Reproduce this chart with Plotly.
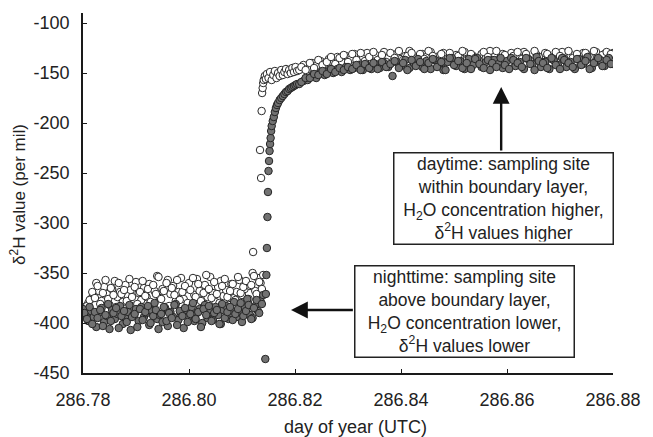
import plotly.graph_objects as go

# ---------------- data ----------------
night_t = [286.7800, 286.7805, 286.7810, 286.7815, 286.7820, 286.7825, 286.7830, 286.7835, 286.7840, 286.7845,
           286.7850, 286.7855, 286.7860, 286.7865, 286.7870, 286.7875, 286.7880, 286.7885, 286.7890, 286.7895,
           286.7900, 286.7905, 286.7910, 286.7915, 286.7920, 286.7925, 286.7930, 286.7935, 286.7940, 286.7945,
           286.7950, 286.7955, 286.7960, 286.7965, 286.7970, 286.7975, 286.7980, 286.7985, 286.7990, 286.7995,
           286.8000, 286.8005, 286.8010, 286.8015, 286.8020, 286.8025, 286.8030, 286.8035, 286.8040, 286.8045,
           286.8050, 286.8055, 286.8060, 286.8065, 286.8070, 286.8075, 286.8080, 286.8085, 286.8090, 286.8095,
           286.8100, 286.8105, 286.8110, 286.8115, 286.8120, 286.8125, 286.8130, 286.8135, 286.8140]
night_open = [-384, -388, -380, -376, -372, -360, -368, -378, -364, -371,
              -382, -366, -358, -374, -369, -379, -362, -373, -367, -383,
              -359, -370, -377, -365, -374, -361, -380, -368, -353, -375,
              -366, -384, -357, -371, -363, -378, -369, -355, -376, -366,
              -360, -381, -372, -356, -368, -377, -362, -374, -354, -370,
              -379, -364, -358, -373, -367, -382, -361, -375, -369, -357,
              -372, -366, -379, -363, -350, -368, -355, -360, -352]
night_filled = [-386, -392, -398, -388, -394, -404, -390, -385, -399, -393,
                -406, -387, -396, -391, -383, -401, -395, -389, -407, -392,
                -386, -398, -384, -394, -390, -402, -388, -380, -396, -392,
                -399, -385, -403, -389, -394, -381, -397, -391, -405, -387,
                -393, -384, -398, -390, -386, -400, -382, -395, -389, -397,
                -384, -392, -401, -387, -383, -396, -390, -379, -394, -388,
                -399, -385, -376, -392, -395, -383, -388, -378, -372]

night2_t = [286.78025, 286.78075, 286.78125, 286.78175, 286.78225, 286.78275, 286.78325, 286.78375, 286.78425, 286.78475,
            286.78525, 286.78575, 286.78625, 286.78675, 286.78725, 286.78775, 286.78825, 286.78875, 286.78925, 286.78975,
            286.79025, 286.79075, 286.79125, 286.79175, 286.79225, 286.79275, 286.79325, 286.79375, 286.79425, 286.79475,
            286.79525, 286.79575, 286.79625, 286.79675, 286.79725, 286.79775, 286.79825, 286.79875, 286.79925, 286.79975,
            286.80025, 286.80075, 286.80125, 286.80175, 286.80225, 286.80275, 286.80325, 286.80375, 286.80425, 286.80475,
            286.80525, 286.80575, 286.80625, 286.80675, 286.80725, 286.80775, 286.80825, 286.80875, 286.80925, 286.80975,
            286.81025, 286.81075, 286.81125, 286.81175, 286.81225, 286.81275, 286.81325, 286.81375]
night2_open = [-390, -383, -377, -369, -375, -363, -381, -370, -357, -376,
               -365, -372, -384, -360, -371, -367, -378, -356, -374, -364,
               -381, -369, -358, -373, -366, -379, -362, -371, -354, -376,
               -368, -360, -383, -365, -372, -357, -377, -369, -363, -380,
               -367, -355, -374, -361, -378, -370, -352, -366, -375, -359,
               -371, -380, -363, -356, -374, -368, -361, -377, -354, -370,
               -364, -358, -376, -362, -353, -371, -359, -366]
night2_filled = [-390, -396, -384, -401, -389, -395, -387, -403, -392, -381,
                 -398, -390, -385, -405, -393, -388, -399, -382, -394, -391,
                 -404, -386, -397, -389, -383, -400, -393, -387, -406, -391,
                 -384, -398, -390, -395, -382, -402, -388, -393, -385, -399,
                 -391, -380, -396, -389, -404, -386, -392, -383, -398, -390,
                 -387, -401, -381, -395, -389, -384, -397, -391, -386, -380,
                 -393, -388, -382, -396, -385, -377, -390, -381]

rise_open_t = [286.8121, 286.8134, 286.8136, 286.8137, 286.8138, 286.8139, 286.8140, 286.8141, 286.8143, 286.8145,
               286.8147, 286.8150, 286.8153, 286.8156, 286.8159, 286.8162, 286.8165, 286.8168, 286.8171, 286.8174,
               286.8177, 286.8180, 286.8183, 286.8186, 286.8189, 286.8192, 286.8195, 286.8198, 286.8201, 286.8204]
rise_open = [-329, -227, -255, -188, -170, -165, -160, -157, -153, -156,
             -151, -155, -149, -157, -152, -148, -155, -150, -153, -147,
             -152, -149, -146, -151, -147, -150, -145, -149, -144, -148]

rise_filled_t = [286.8144, 286.8145, 286.8146, 286.8147, 286.8148, 286.8149, 286.8150, 286.8151, 286.8152, 286.8153,
                 286.8154, 286.8155, 286.8156, 286.8158, 286.8160, 286.8162, 286.8164, 286.8166, 286.8168, 286.8171,
                 286.8174, 286.8177, 286.8180, 286.8183, 286.8186, 286.8189, 286.8192, 286.8195, 286.8198, 286.8201,
                 286.8204]
rise_filled = [-436, -371, -352, -325, -294, -269, -248, -238, -228, -221,
               -215, -208, -203, -198, -194, -189, -185, -182, -180, -177,
               -175, -173, -171, -169, -168, -166, -165, -164, -163, -162,
               -161]

day_t = [286.8208, 286.8216, 286.8224, 286.8232, 286.8240, 286.8248, 286.8256, 286.8264, 286.8272, 286.8280,
         286.8288, 286.8296, 286.8304, 286.8312, 286.8320, 286.8328, 286.8336, 286.8344, 286.8352, 286.8360,
         286.8368, 286.8376, 286.8384, 286.8392, 286.8400, 286.8408, 286.8416, 286.8424, 286.8432, 286.8440,
         286.8448, 286.8456, 286.8464, 286.8472, 286.8480, 286.8488, 286.8496, 286.8504, 286.8512, 286.8520,
         286.8528, 286.8536, 286.8544, 286.8552, 286.8560, 286.8568, 286.8576, 286.8584, 286.8592, 286.8600,
         286.8608, 286.8616, 286.8624, 286.8632, 286.8640, 286.8648, 286.8656, 286.8664, 286.8672, 286.8680,
         286.8688, 286.8696, 286.8704, 286.8712, 286.8720, 286.8728, 286.8736, 286.8744, 286.8752, 286.8760,
         286.8768, 286.8776, 286.8784, 286.8792, 286.8800]
day_open = [-147, -142, -146, -140, -143, -138, -141, -136, -140, -134,
            -139, -133, -137, -131, -138, -134, -130, -137, -132, -136,
            -129, -135, -139, -131, -136, -133, -128, -135, -138, -131,
            -134, -129, -137, -133, -130, -136, -139, -132, -135, -129,
            -137, -133, -139, -131, -135, -128, -134, -137, -131, -136,
            -130, -138, -133, -129, -136, -139, -132, -135, -130, -134,
            -137, -131, -129, -136, -132, -138, -134, -130, -136, -132,
            -129, -135, -131, -134, -130]
day_filled = [-161, -158, -157, -153, -155, -150, -152, -148, -150, -146,
              -149, -144, -147, -145, -142, -147, -143, -146, -141, -145,
              -140, -144, -153, -139, -143, -137, -145, -140, -136, -144,
              -138, -146, -137, -141, -147, -139, -135, -143, -138, -146,
              -136, -142, -135, -144, -139, -147, -137, -141, -145, -138,
              -135, -143, -139, -146, -136, -141, -134, -144, -139, -146,
              -137, -142, -135, -144, -139, -146, -136, -141, -134, -145,
              -139, -137, -143, -135, -141]

day2_t = [286.8212, 286.8220, 286.8228, 286.8236, 286.8244, 286.8252, 286.8260, 286.8268, 286.8276, 286.8284,
          286.8292, 286.8300, 286.8308, 286.8316, 286.8324, 286.8332, 286.8340, 286.8348, 286.8356, 286.8364,
          286.8372, 286.8380, 286.8388, 286.8396, 286.8404, 286.8412, 286.8420, 286.8428, 286.8436, 286.8444,
          286.8452, 286.8460, 286.8468, 286.8476, 286.8484, 286.8492, 286.8500, 286.8508, 286.8516, 286.8524,
          286.8532, 286.8540, 286.8548, 286.8556, 286.8564, 286.8572, 286.8580, 286.8588, 286.8596, 286.8604,
          286.8612, 286.8620, 286.8628, 286.8636, 286.8644, 286.8652, 286.8660, 286.8668, 286.8676, 286.8684,
          286.8692, 286.8700, 286.8708, 286.8716, 286.8724, 286.8732, 286.8740, 286.8748, 286.8756, 286.8764,
          286.8772, 286.8780, 286.8788, 286.8796]
day2_open = [-144, -147, -140, -145, -137, -142, -139, -134, -141, -135,
             -132, -139, -131, -137, -130, -138, -134, -129, -137, -132,
             -139, -130, -135, -128, -137, -133, -130, -139, -131, -136,
             -128, -133, -138, -131, -139, -130, -136, -133, -128, -137,
             -131, -135, -139, -129, -134, -137, -128, -136, -132, -139,
             -133, -129, -136, -131, -138, -128, -134, -139, -131, -136,
             -129, -133, -137, -128, -135, -131, -138, -130, -134, -128,
             -136, -132, -129, -131]
day2_filled = [-159, -155, -155, -151, -152, -148, -151, -146, -149, -145,
               -147, -144, -146, -142, -147, -141, -145, -140, -146, -139,
               -144, -141, -138, -145, -140, -147, -137, -143, -139, -146,
               -140, -136, -144, -139, -147, -135, -142, -138, -145, -140,
               -146, -136, -141, -145, -137, -140, -144, -135, -142, -146,
               -137, -140, -144, -135, -141, -147, -138, -140, -145, -135,
               -142, -146, -137, -140, -144, -136, -142, -138, -146, -140,
               -135, -143, -137, -141]

x_ticks = [286.78, 286.80, 286.82, 286.84, 286.86, 286.88]
x_tick_text = ["286.78", "286.80", "286.82", "286.84", "286.86", "286.88"]
y_ticks = [-450, -400, -350, -300, -250, -200, -150, -100]
y_tick_text = ["-450", "-400", "-350", "-300", "-250", "-200", "-150", "-100"]

day_label = ("daytime: sampling site<br>within boundary layer,<br>"
             "H<sub>2</sub>O concentration higher,<br>δ<sup>2</sup>H values higher")
night_label = ("nighttime: sampling site<br>above boundary layer,<br>"
               "H<sub>2</sub>O concentration lower,<br>δ<sup>2</sup>H values lower")

# ---------------- figure ----------------
FONT = "Liberation Sans, Arial, sans-serif"
TXT = "#222222"

open_x = night_t + night2_t + rise_open_t + day_t + day2_t
open_y = night_open + night2_open + rise_open + day_open + day2_open
filled_x = night_t + night2_t + rise_filled_t + day_t + day2_t
filled_y = night_filled + night2_filled + rise_filled + day_filled + day2_filled

fig = go.Figure()
fig.add_trace(go.Scatter(
    x=open_x, y=open_y, mode="markers",
    marker=dict(size=7.5, color="white", line=dict(color="#2a2a2a", width=1)),
    showlegend=False, hoverinfo="skip"))
fig.add_trace(go.Scatter(
    x=filled_x, y=filled_y, mode="markers",
    marker=dict(size=7.5, color="#727272", line=dict(color="#262626", width=1)),
    showlegend=False, hoverinfo="skip"))

axis_common = dict(showgrid=False, zeroline=False, showline=True, linecolor="#1a1a1a",
                   linewidth=1.6, ticks="inside", ticklen=4, tickwidth=1.2, tickcolor="#1a1a1a",
                   tickfont=dict(family=FONT, size=18, color=TXT), mirror=False)

fig.update_xaxes(range=[286.78, 286.88], tickmode="array", tickvals=x_ticks, ticktext=x_tick_text,
                 ticklabelstandoff=10, **axis_common)
fig.update_yaxes(range=[-450, -90], tickmode="array", tickvals=y_ticks, ticktext=y_tick_text,
                 ticklabelstandoff=8, **axis_common)

annotations = [
    dict(text="day of year (UTC)", xref="paper", yref="paper", x=0.515, y=-0.15,
         xanchor="center", yanchor="middle", showarrow=False,
         font=dict(family=FONT, size=18, color=TXT)),
    dict(text="δ<sup>2</sup>H value (per mil)", xref="paper", yref="paper", x=-0.123, y=0.497,
         xanchor="center", yanchor="middle", showarrow=False, textangle=-90,
         font=dict(family=FONT, size=17, color=TXT)),
    # arrows
    dict(x=286.8589, y=-164, ax=286.8589, ay=-229, xref="x", yref="y", axref="x", ayref="y",
         text="", showarrow=True, arrowhead=2, arrowsize=1.4, arrowwidth=2.4, arrowcolor="#111111"),
    dict(x=286.81925, y=-387, ax=286.8312, ay=-387, xref="x", yref="y", axref="x", ayref="y",
         text="", showarrow=True, arrowhead=2, arrowsize=1.4, arrowwidth=2.4, arrowcolor="#111111"),
    # boxes
    dict(text=day_label, x=286.8593, y=-275.5, xref="x", yref="y", showarrow=False,
         xanchor="center", yanchor="middle", width=214, height=86, align="center",
         bgcolor="white", bordercolor="#222222", borderwidth=1.5, borderpad=2,
         font=dict(family=FONT, size=17.5, color=TXT)),
    dict(text=night_label, x=286.8519, y=-388, xref="x", yref="y", showarrow=False,
         xanchor="center", yanchor="middle", width=214, height=86, align="center",
         bgcolor="white", bordercolor="#222222", borderwidth=1.5, borderpad=2,
         font=dict(family=FONT, size=17.5, color=TXT)),
]

fig.update_layout(width=653, height=437, margin=dict(l=83, r=35, t=13, b=64),
                  plot_bgcolor="white", paper_bgcolor="white", annotations=annotations,
                  showlegend=False)

fig.write_html("out.html")
